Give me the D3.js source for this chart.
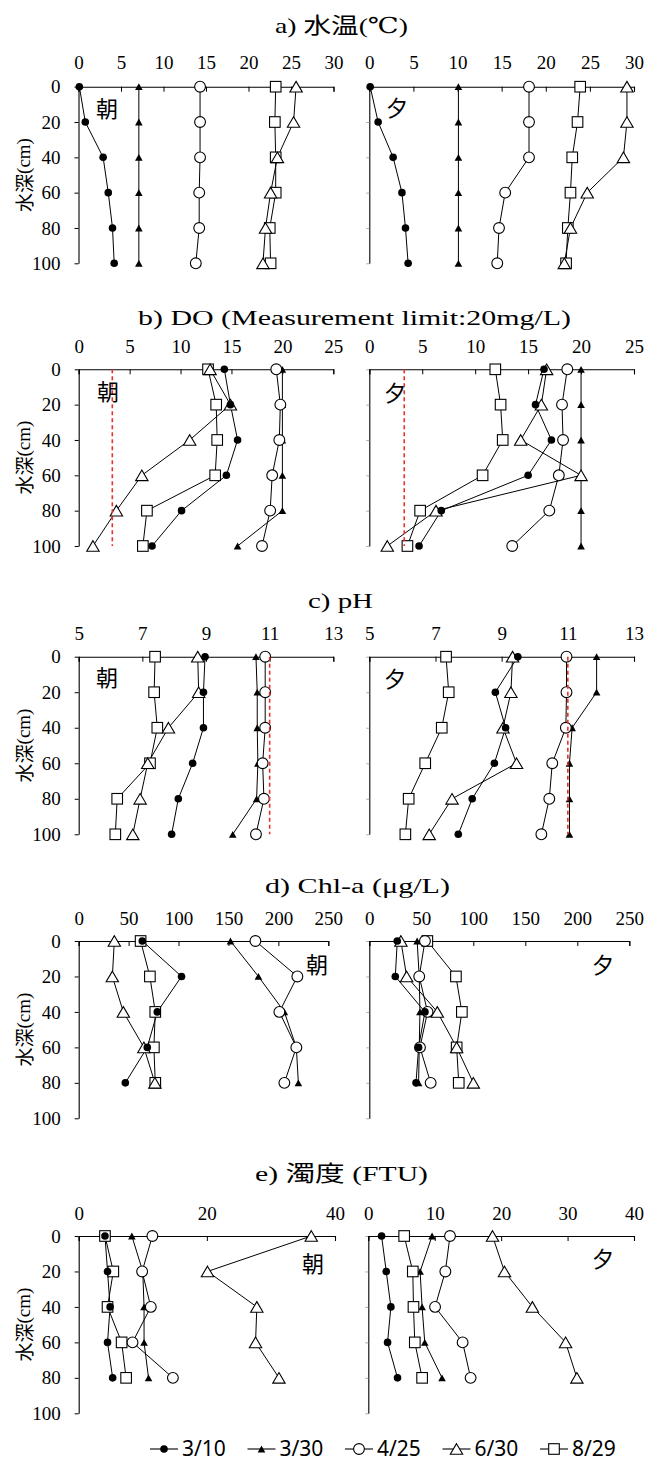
<!DOCTYPE html>
<html><head><meta charset="utf-8">
<script src="https://cdn.jsdelivr.net/npm/d3@7"></script>
<style>
body{margin:0;background:#fff;}
svg{display:block;}
.serif{font-family:"Liberation Serif","Times New Roman",Tinos,"DejaVu Serif","Noto Sans CJK JP",serif;}
.cjk{font-family:"Noto Sans CJK JP","Noto Sans",sans-serif;}
</style></head><body>
<svg id="chart" width="659" height="1461"></svg>
<script>
// ---------------- DATA ----------------
const dates = ["3/10","3/30","4/25","6/30","8/29"];
const depths6 = [0,20,40,60,80,100];
const depths5 = [0,20,40,60,80];
const depthTicks = [0,20,40,60,80,100];

const tempTicks = [0,5,10,15,20,25,30];
const doTicks = [0,5,10,15,20,25];
const phTicks = [5,7,9,11,13];
const chlTicks = [0,50,100,150,200,250];
const turbTicksAM = [0,20,40];
const turbTicksPM = [0,10,20,30,40];

// a) water temperature (°C), rows = dates, cols = depths
const tempAM = [
  [0.1,0.8,2.9,3.5,4.0,4.2],
  [7.1,7.1,7.1,7.1,7.1,7.1],
  [14.3,14.3,14.3,14.2,14.2,13.8],
  [25.6,25.3,23.4,22.6,22.0,21.7],
  [23.2,23.1,23.2,23.2,22.5,22.6]
];
const tempPM = [
  [0.1,1.0,2.7,3.7,4.1,4.4],
  [10.1,10.1,10.1,10.1,10.1,10.1],
  [18.1,18.1,18.1,15.4,14.7,14.5],
  [29.2,29.2,28.8,24.7,22.8,22.1],
  [23.9,23.6,23.0,22.8,22.5,22.3]
];
// b) DO (mg/L)
const doAM = [
  [14.3,14.9,15.6,14.5,10.1,7.2],
  [20,20,20,20,20,15.6],
  [19.4,19.8,19.7,19.0,18.8,18.0],
  [12.9,14.9,10.9,6.2,3.7,1.4],
  [12.7,13.5,13.6,13.4,6.7,6.3]
];
const doPM = [
  [16.5,15.7,17.2,15.0,6.8,4.7],
  [20,20,20,20,20,20],
  [18.7,18.2,18.3,17.9,17.0,13.5],
  [16.75,16.25,14.3,20.0,6.3,1.7],
  [11.9,12.4,12.6,10.7,4.8,3.6]
];
const doRef = 3.3;
// c) pH
const phAM = [
  [8.97,8.92,8.92,8.58,8.13,7.92],
  [10.57,10.61,10.61,10.63,10.59,9.84],
  [10.86,10.86,10.86,10.78,10.82,10.57],
  [8.74,8.77,7.82,7.17,6.93,6.70],
  [7.40,7.37,7.47,7.24,6.21,6.15]
];
const phPM = [
  [9.49,8.81,9.12,8.78,8.11,7.69],
  [11.87,11.87,11.13,11.05,11.05,11.05],
  [10.96,10.96,10.94,10.53,10.44,10.20],
  [9.33,9.28,9.04,9.45,7.50,6.81],
  [7.32,7.40,7.19,6.69,6.19,6.09]
];
const phRef = 11;
// d) Chl-a (µg/L)
const chlAM = [
  [63.7,103,78.7,68.7,46.7],
  [152,180,206,218,220],
  [177,219,201,218,206],
  [35.7,33.7,44.7,65.3,76.3],
  [62,71.3,76.7,75.3,76.7]
];
const chlPM = [
  [26.9,25,53.5,47.4,44.9],
  [46,48,48.7,48,47.4],
  [53.5,48,56,48.7,59],
  [30.4,35.9,65.4,84,100],
  [55.8,83.3,89,84,86]
];
// e) turbidity (FTU)
const turbAM = [
  [4.1,4.5,4.9,4.5,5.3],
  [8.3,10.0,10.2,10.2,10.9],
  [11.5,9.9,11.25,8.4,14.7],
  [36.3,20.1,27.8,27.6,31.25],
  [4.1,5.4,4.5,6.7,7.4]
];
const turbPM = [
  [2.0,2.7,3.4,2.9,4.4],
  [9.6,7.8,8.1,8.5,11.1],
  [12.3,11.6,10.05,14.2,15.4],
  [18.7,20.5,24.7,29.7,31.4],
  [5.4,6.7,6.8,7.0,8.1]
];

// ---------------- PANELS ----------------
const panels = [
  {title:"a) 水温(℃)", domain:[0,30], ticksL:tempTicks, ticksR:tempTicks, am:tempAM, pm:tempPM, depths:depths6, ref:null},
  {title:"b) DO (Measurement limit:20mg/L)", domain:[0,25], ticksL:doTicks, ticksR:doTicks, am:doAM, pm:doPM, depths:depths6, ref:doRef},
  {title:"c) pH", domain:[5,13], ticksL:phTicks, ticksR:phTicks, am:phAM, pm:phPM, depths:depths6, ref:phRef},
  {title:"d) Chl-a (μg/L)", domain:[0,250], ticksL:chlTicks, ticksR:chlTicks, am:chlAM, pm:chlPM, depths:depths5, ref:null},
  {title:"e) 濁度 (FTU)", domain:[0,40], ticksL:turbTicksAM, ticksR:turbTicksPM, am:turbAM, pm:turbPM, depths:depths5, ref:null}
];

const layout = [
  {top:86.7, bottom:263.3, L:[78.5,333.5], R:[369.3,634], t:{x:341.5,y:33,len:133}, am:{x:107,y:107}, pm:{x:397,y:106}, pad:18},
  {top:369.3, bottom:546, L:[78.7,333.3], R:[369.3,634], t:{x:354.5,y:325,len:433}, am:{x:108,y:390}, pm:{x:395,y:391}, pad:16},
  {top:656.7, bottom:834.3, L:[78.7,333.3], R:[369.3,634], t:{x:340.5,y:608,len:65}, am:{x:107,y:676}, pm:{x:395,y:677}, pad:17},
  {top:941, bottom:1118.3, L:[78.7,328.3], R:[369.3,629.3], t:{x:357.5,y:893,len:185}, am:{x:317,y:963}, pm:{x:603,y:963}, pad:16},
  {top:1236, bottom:1413.3, L:[78.7,335], R:[368.3,634], t:{x:341.5,y:1181,len:173}, am:{x:313,y:1262}, pm:{x:603,y:1257}, pad:16}
];

const markerOf = ["dot","tri","circle","otri","square"];
const drawOrder = [1,4,3,2,0];

const svg = d3.select("#chart");
svg.append("rect").attr("width",659).attr("height",1461).attr("fill","#fff");

function marker(g, type, x, y, s=1) {
  const sw = 1.1;
  if (type==="dot") {
    g.append("circle").attr("cx",x).attr("cy",y).attr("r",3.8*s).attr("fill","#000");
  } else if (type==="tri") {
    const w=7.6*s, h=6.8*s;
    g.append("path").attr("d",`M${x},${y-h/2}L${x+w/2},${y+h/2}L${x-w/2},${y+h/2}Z`).attr("fill","#000");
  } else if (type==="circle") {
    g.append("circle").attr("cx",x).attr("cy",y).attr("r",5.4*s).attr("fill","#fff").attr("stroke","#000").attr("stroke-width",sw);
  } else if (type==="otri") {
    const w=12.4*s, h=10.6*s;
    g.append("path").attr("d",`M${x},${y-h/2}L${x+w/2},${y+h/2}L${x-w/2},${y+h/2}Z`).attr("fill","#fff").attr("stroke","#000").attr("stroke-width",sw);
  } else if (type==="square") {
    const a=10.6*s;
    g.append("rect").attr("x",x-a/2).attr("y",y-a/2).attr("width",a).attr("height",a).attr("fill","#fff").attr("stroke","#000").attr("stroke-width",sw);
  }
}

function drawSide(p, lay, side) {
  const xr = side==="am" ? lay.L : lay.R;
  const ticks = side==="am" ? p.ticksL : p.ticksR;
  const data = p[side];
  const x = d3.scaleLinear().domain(p.domain).range(xr);
  const y = d3.scaleLinear().domain([0,100]).range([lay.top, lay.bottom]);
  const g = svg.append("g");

  // y axis
  const ya = g.append("g").attr("transform",`translate(${xr[0]},0)`)
    .call(d3.axisLeft(y).tickValues(depthTicks).tickSizeInner(side==="am"?4:3).tickSizeOuter(0).tickPadding(14)
      .tickFormat(side==="am" ? d3.format("d") : ""));
  ya.attr("font-family",null).attr("font-size",19).classed("serif",true);
  ya.select(".domain").attr("stroke","#000").attr("stroke-width",1.1);
  ya.selectAll(".tick line").attr("stroke", side==="am" ? "#000" : "#aaa");
  ya.selectAll(".tick text").attr("fill","#000");

  // x axis (top)
  const xa = g.append("g").attr("transform",`translate(0,${lay.top})`)
    .call(d3.axisTop(x).tickValues(ticks).tickSizeInner(-5).tickSizeOuter(-5).tickPadding(lay.pad).tickFormat(d3.format("d")));
  xa.attr("font-family",null).attr("font-size",19).classed("serif",true);
  xa.select(".domain").attr("stroke","#000").attr("stroke-width",1.1);
  xa.selectAll(".tick line").attr("stroke","#000");
  xa.selectAll(".tick text").attr("fill","#000");

  // lines
  const line = d3.line().x(d=>x(d[0])).y(d=>y(d[1]));
  data.forEach(vals => {
    const pts = vals.map((v,i)=>[v,p.depths[i]]);
    g.append("path").attr("d",line(pts)).attr("fill","none").attr("stroke","#000").attr("stroke-width",1);
  });
  // markers
  drawOrder.forEach(si => {
    data[si].forEach((v,i)=> marker(g, markerOf[si], x(v), y(p.depths[i])));
  });
  // reference line
  if (p.ref !== null) {
    g.append("line").attr("x1",x(p.ref)).attr("x2",x(p.ref)).attr("y1",y(0)).attr("y2",y(100))
      .attr("stroke","#e8302c").attr("stroke-width",1.6).attr("stroke-dasharray","4,3");
  }
  // 朝/夕
  const pos = lay[side];
  g.append("text").attr("class","cjk").attr("x",pos.x).attr("y",pos.y).attr("text-anchor","middle").attr("dominant-baseline","central")
    .attr("font-size",22).attr("fill","#000").text(side==="am"?"朝":"夕");

  if (side==="am") {
    const ym = (lay.top+lay.bottom)/2;
    const t = g.append("text").attr("transform",`translate(23,${ym}) rotate(-90)`).attr("text-anchor","middle")
      .attr("dominant-baseline","central").attr("font-size",19).attr("fill","#000");
    t.append("tspan").attr("class","cjk").text("水深");
    t.append("tspan").attr("class","serif").text("(cm)");
  }
}

panels.forEach((p,i)=>{
  const lay = layout[i];
  svg.append("text").attr("class","serif").attr("x",lay.t.x).attr("y",lay.t.y).attr("text-anchor","middle")
    .attr("font-size",22).attr("fill","#000")
    .attr("textLength",lay.t.len).attr("lengthAdjust","spacingAndGlyphs").text(p.title);
  drawSide(p, lay, "am");
  drawSide(p, lay, "pm");
});

// legend
const lg = svg.append("g");
dates.forEach((d,i)=>{
  const x0 = 150 + i*97.5, yc = 1449;
  lg.append("line").attr("x1",x0).attr("x2",x0+28).attr("y1",yc).attr("y2",yc).attr("stroke","#000").attr("stroke-width",1.1);
  marker(lg, markerOf[i], x0+14, yc);
  lg.append("text").attr("x",x0+32).attr("y",yc+7).style("font-family","'Noto Sans','Open Sans',sans-serif")
    .attr("font-size",21).attr("fill","#000").text(d);
});
</script>
</body></html>
